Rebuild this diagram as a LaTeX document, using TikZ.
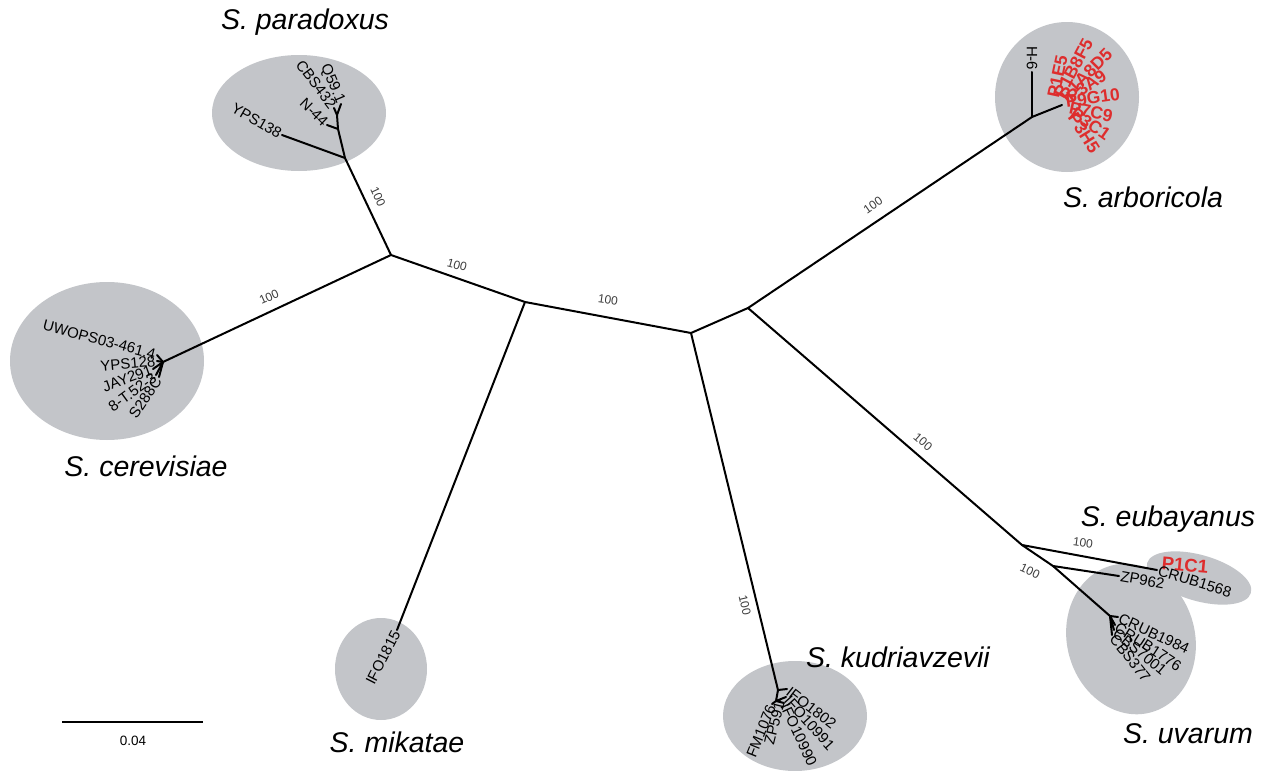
\documentclass[tikz,border=0pt]{standalone}
\usepackage{fontspec}
\setmainfont{Liberation Sans}
\definecolor{cladegray}{RGB}{195,197,201}
\definecolor{strainred}{RGB}{222,45,45}
\definecolor{bootgray}{RGB}{60,60,60}
\begin{document}
\begin{tikzpicture}[x=1pt,y=-1pt,
  clade/.style={fill=cladegray,draw=none},
  branch/.style={line width=2pt,line cap=round,line join=round},
  leaf/.style={font=\fontsize{15}{16}\selectfont,inner sep=1.5pt},
  redleaf/.style={font=\bfseries\fontsize{17.5}{18}\selectfont,text=strainred,inner sep=0.5pt},
  boot/.style={font=\fontsize{12}{13}\selectfont,text=bootgray,inner sep=0pt},
  species/.style={font=\itshape\fontsize{28.5}{30}\selectfont,inner sep=0pt}]

\useasboundingbox (0,0) rectangle (1267,771);
\fill[white] (0,0) rectangle (1267,771);

% ---- clade backgrounds ----
\fill[clade] (299,113) ellipse [x radius=87, y radius=58];
\fill[clade] (1067,97) ellipse [x radius=72, y radius=75];
\fill[clade] (107,361) ellipse [x radius=97, y radius=79];
\fill[clade] (381,669) ellipse [x radius=46, y radius=51];
\fill[clade] (795,716) ellipse [x radius=72, y radius=55];
\fill[clade, rotate around={15:(1131,639)}] (1131,639) ellipse [x radius=64, y radius=76];
\fill[clade, rotate around={-16:(1199,578)}] (1199,578) ellipse [x radius=54, y radius=23];

% ---- internal nodes ----
\coordinate (A) at (391,255);
\coordinate (B) at (525,302);
\coordinate (C) at (691,333);
\coordinate (D) at (748,308);
\coordinate (R) at (1032,117);
\coordinate (E) at (1022,545);
\coordinate (F) at (1053,566);
\coordinate (G) at (1110,616);
\coordinate (K) at (778,690);
\coordinate (K2) at (776,701);
\coordinate (P1) at (345,158);
\coordinate (P2) at (338,129);
\coordinate (P3) at (337,115);
\coordinate (Ce) at (163,362);

% ---- tips ----
\coordinate (arbTip) at (1062,105);
\coordinate (h6) at (1032,72);
\coordinate (yps138) at (282,135);
\coordinate (n44) at (327,125);
\coordinate (cbs432) at (334,108);
\coordinate (q591) at (341,104);
\coordinate (uwops) at (157,355);
\coordinate (yps128) at (157,361);
\coordinate (jay291) at (153,369);
\coordinate (t852) at (156,375);
\coordinate (s288c) at (159,377);
\coordinate (ifo1815) at (397,630);
\coordinate (ifo1802) at (787,689);
\coordinate (fm1076) at (772,704);
\coordinate (zp591) at (780,700);
\coordinate (ifo10991) at (786,697);
\coordinate (ifo10990) at (784,703);
\coordinate (eub) at (1157,570);
\coordinate (zp962) at (1119,576);
\coordinate (crub1984) at (1118,617);
\coordinate (crub1776) at (1115,625);
\coordinate (cbs7001) at (1114,630);
\coordinate (cbs377) at (1112,635);

% ---- branches ----
\draw[branch] (Ce) -- (A) -- (B) -- (C) -- (D) -- (R) -- (arbTip);
\draw[branch] (R) -- (h6);
\draw[branch] (A) -- (P1) -- (yps138);
\draw[branch] (P1) -- (P2) -- (n44);
\draw[branch] (P2) -- (P3) -- (cbs432);
\draw[branch] (P3) -- (q591);
\draw[branch] (Ce) -- (uwops);
\draw[branch] (Ce) -- (yps128);
\draw[branch] (Ce) -- (jay291);
\draw[branch] (Ce) -- (t852);
\draw[branch] (Ce) -- (s288c);
\draw[branch] (B) -- (ifo1815);
\draw[branch] (C) -- (K) -- (ifo1802);
\draw[branch] (K) -- (K2) -- (fm1076);
\draw[branch] (K2) -- (zp591);
\draw[branch] (K2) -- (ifo10991);
\draw[branch] (K2) -- (ifo10990);
\draw[branch] (D) -- (E) -- (eub);
\draw[branch] (E) -- (F) -- (zp962);
\draw[branch] (F) -- (G) -- (crub1984);
\draw[branch] (G) -- (crub1776);
\draw[branch] (G) -- (cbs7001);
\draw[branch] (G) -- (cbs377);

% ---- bootstrap support ----
\node[boot, rotate=-65] (bs1) at (378,197) {100};
\node[boot, rotate=24] (bs2) at (269,297) {100};
\node[boot, rotate=-15] (bs3) at (457,265) {100};
\node[boot, rotate=-8] (bs4) at (608,300) {100};
\node[boot, rotate=35] (bs5) at (873,205) {100};
\node[boot, rotate=-77] (bs6) at (745,605) {100};
\node[boot, rotate=-41] (bs7) at (923,442) {100};
\node[boot, rotate=-8] (bs8) at (1083,543) {100};
\node[boot, rotate=-25] (bs9) at (1030,571) {100};

% ---- S. paradoxus strains ----
\node[leaf, anchor=east, rotate=-30] (lyps138) at (yps138) {YPS138};
\node[leaf, anchor=east, rotate=-44] (ln44) at (n44) {N-44};
\node[leaf, anchor=east, rotate=-53] (lcbs432) at (cbs432) {CBS432};
\node[leaf, anchor=east, rotate=-67] (lq591) at (q591) {Q59.1};

% ---- S. cerevisiae strains ----
\node[leaf, anchor=east, rotate=-15] (luwops) at (uwops) {UWOPS03-461.4};
\node[leaf, anchor=east, rotate=5] (lyps128) at (yps128) {YPS128};
\node[leaf, anchor=east, rotate=20] (ljay291) at (jay291) {JAY291};
\node[leaf, anchor=east, rotate=36] (lt852) at (t852) {8-T.52-3};
\node[leaf, anchor=east, rotate=56] (ls288c) at (s288c) {S288C};

% ---- S. mikatae ----
\node[leaf, anchor=east, rotate=63] (lifo1815) at (ifo1815) {IFO1815};

% ---- S. kudriavzevii strains ----
\node[leaf, anchor=west, rotate=-38] (lifo1802) at (ifo1802) {IFO1802};
\node[leaf, anchor=west, rotate=-48] (lifo10991) at (ifo10991) {IFO10991};
\node[leaf, anchor=west, rotate=-65] (lifo10990) at (ifo10990) {IFO10990};
\node[leaf, anchor=east, rotate=76] (lzp591) at (zp591) {ZP591};
\node[leaf, anchor=east, rotate=68] (lfm1076) at (fm1076) {FM1076};

% ---- S. arboricola strains ----
\node[leaf, anchor=east, rotate=-90] (lh6) at (h6) {H-6};
\node[redleaf, anchor=west, rotate=78] (r1) at (1053,98) {P1E5};
\node[redleaf, anchor=west, rotate=62] (r2) at (1058,97) {P1B8F5};
\node[redleaf, anchor=west, rotate=45] (r3) at (1062,99) {P1A8D5};
\node[redleaf, anchor=west, rotate=35] (r4) at (1068,99) {P3A9};
\node[redleaf, anchor=west, rotate=8] (r5) at (1065,102) {P9G10};
\node[redleaf, anchor=west, rotate=-12] (r6) at (1069,107) {P7C9};
\node[redleaf, anchor=west, rotate=-35] (r7) at (1072,111) {P3C1};
\node[redleaf, anchor=west, rotate=-58] (r8) at (1072,114) {P3H5};

% ---- S. eubayanus / S. uvarum strains ----
\node[redleaf, font=\bfseries\fontsize{18.5}{19}\selectfont, rotate=-5] (lp1c1) at (1185,565) {P1C1};
\node[leaf, anchor=west, rotate=-17] (lcrub1568) at (eub) {CRUB1568};
\node[leaf, anchor=west, rotate=-10] (lzp962) at (zp962) {ZP962};
\node[leaf, anchor=west, rotate=-25] (lcrub1984) at (crub1984) {CRUB1984};
\node[leaf, anchor=west, rotate=-33] (lcrub1776) at (crub1776) {CRUB1776};
\node[leaf, anchor=west, rotate=-40] (lcbs7001) at (cbs7001) {CBS7001};
\node[leaf, anchor=west, rotate=-52] (lcbs377) at (cbs377) {CBS377};

% ---- species names ----
\node[species] (sp1) at (305,22) {S. paradoxus};
\node[species] (sp2) at (1143,197) {S. arboricola};
\node[species] (sp3) at (146,466) {S. cerevisiae};
\node[species] (sp4) at (397,742) {S. mikatae};
\node[species] (sp5) at (898,657) {S. kudriavzevii};
\node[species] (sp6) at (1168,519) {S. eubayanus};
\node[species] (sp7) at (1188,734) {S. uvarum};

% ---- scale bar ----
\coordinate (sbL) at (62,722);
\coordinate (sbR) at (203,722);
\draw[line width=1.5pt] (sbL) -- (sbR);
\node[font=\fontsize{13.5}{14}\selectfont, inner sep=0pt] (sblabel) at (133,741) {0.04};

\end{tikzpicture}
\end{document}
